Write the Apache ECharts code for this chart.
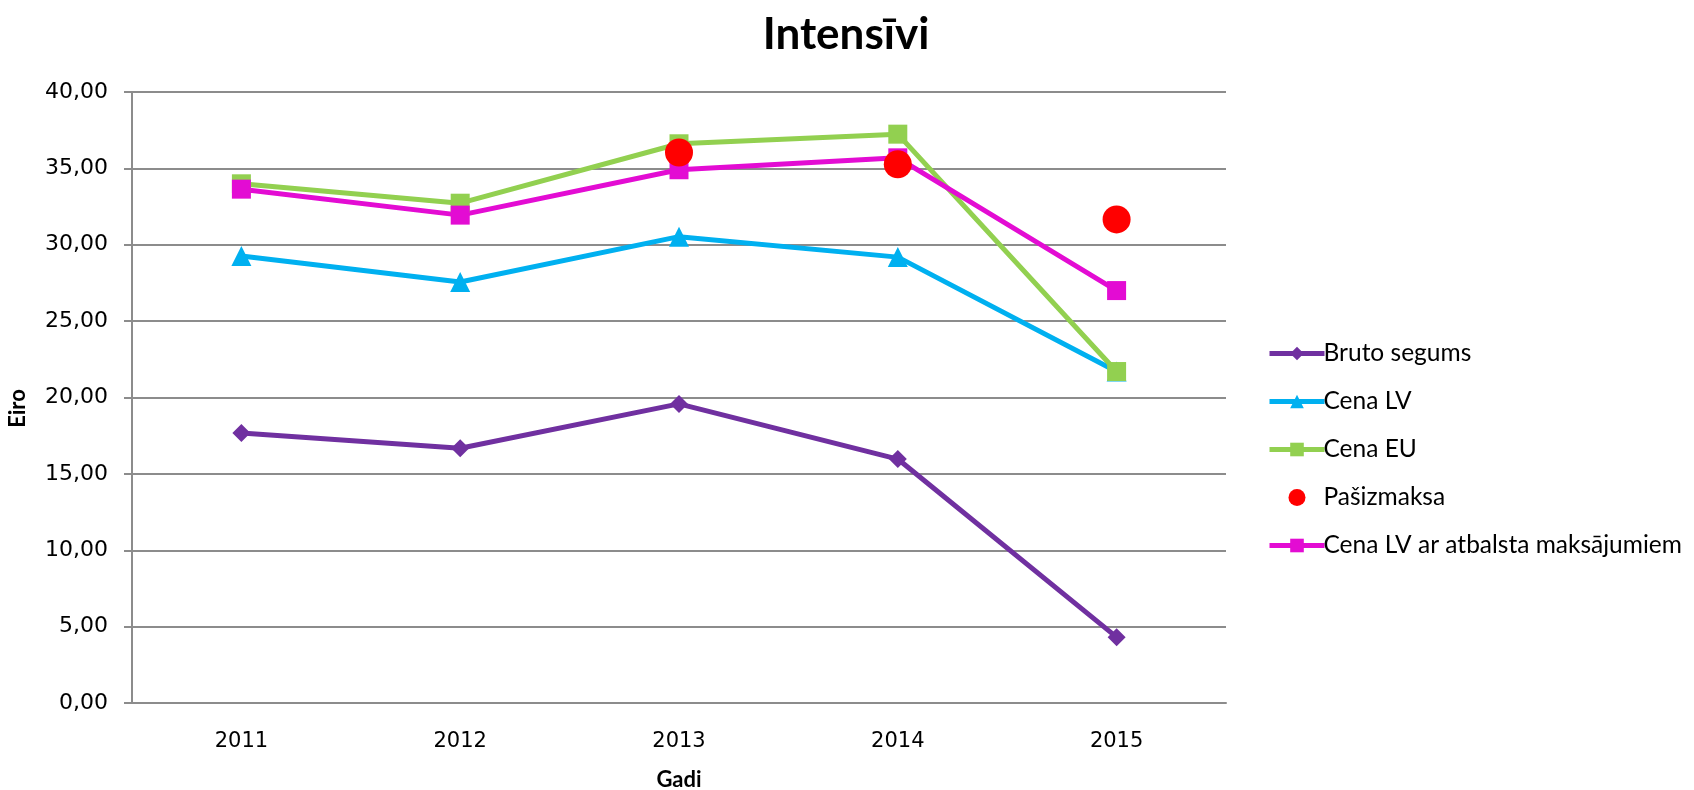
<!DOCTYPE html>
<html>
<head>
<meta charset="utf-8">
<script src="https://cdn.jsdelivr.net/npm/echarts@6/dist/echarts.min.js"></script>
<style>
  html, body { margin: 0; padding: 0; background: #fff; }
  #chart { width: 1694px; height: 790px; }
</style>
</head>
<body>
<div id="chart"></div>
<script>
const years = ["2011", "2012", "2013", "2014", "2015"];
const brutoSegums = [17.67, 16.68, 19.58, 15.97, 4.31];
const cenaLV = [29.26, 27.56, 30.53, 29.19, 21.7];
const cenaEU = [33.99, 32.72, 36.61, 37.24, 21.7];
const pasizmaksa = ["-", "-", 36.04, 35.27, 31.66];
const cenaLVAtbalsts = [33.64, 31.94, 34.91, 35.69, 27.0];

let chartDom = document.getElementById("chart");
let myChart = echarts.init(chartDom);
let option;

const lineSeries = (name, data, color, symbol, size) => ({
  name: name,
  type: "line",
  data: data,
  symbol: symbol,
  symbolSize: size,
  lineStyle: { color: color, width: 5 },
  itemStyle: { color: color },
  animation: false,
});

option = {
  title: {
    text: "Intensīvi",
    left: 841,
    top: 8,
    textAlign: "center",
    textStyle: { fontFamily: "Lato", fontWeight: "bold", fontSize: 44, color: "#000" },
  },
  legend: {
    orient: "vertical",
    left: 1262,
    top: 336,
    itemWidth: 55,
    itemHeight: 17,
    itemGap: 23,
    lineStyle: { width: 5 },
    textStyle: { fontFamily: "Lato", fontSize: 24.5, color: "#000", padding: [0, 0, 0, -6] },
    data: ["Bruto segums", "Cena LV", "Cena EU", "Pašizmaksa", "Cena LV ar atbalsta maksājumiem"],
  },
  grid: { left: 132, right: 468, top: 92, bottom: 87, outerBoundsMode: "none" },
  xAxis: {
    type: "category",
    data: years,
    name: "Gadi",
    nameLocation: "middle",
    nameGap: 66,
    nameTextStyle: { fontFamily: "Lato", fontWeight: "bold", fontSize: 22, color: "#000" },
    axisLine: { lineStyle: { color: "#8c8c8c", width: 2 } },
    axisTick: { show: false },
    axisLabel: { fontFamily: "DejaVu Sans", fontSize: 21, color: "#000", margin: 28 },
  },
  yAxis: {
    type: "value",
    min: 0,
    max: 40,
    interval: 5,
    name: "Eiro",
    nameLocation: "middle",
    nameGap: 103,
    nameTextStyle: { fontFamily: "Lato", fontWeight: "bold", fontSize: 22, color: "#000", padding: [0, 22, 0, 0] },
    axisLine: { show: true, lineStyle: { color: "#8c8c8c", width: 2 } },
    axisTick: { show: true, length: 8, lineStyle: { color: "#8c8c8c", width: 2 } },
    splitLine: { lineStyle: { color: "#8c8c8c", width: 2 } },
    axisLabel: {
      fontFamily: "DejaVu Sans",
      fontSize: 22,
      color: "#000",
      margin: 24,
      formatter: (v) => v.toFixed(2).replace(".", ","),
    },
  },
  series: [
    lineSeries("Bruto segums", brutoSegums, "#7030A0", "diamond", 18),
    lineSeries("Cena LV", cenaLV, "#00B0F0", "triangle", 20),
    lineSeries("Cena EU", cenaEU, "#92D050", "rect", 19),
    {
      name: "Pašizmaksa",
      type: "scatter",
      data: pasizmaksa,
      symbol: "circle",
      symbolSize: 28,
      z: 5,
      itemStyle: { color: "#FF0000", opacity: 1 },
      animation: false,
    },
    lineSeries("Cena LV ar atbalsta maksājumiem", cenaLVAtbalsts, "#E30CD3", "rect", 19),
  ],
};

option && myChart.setOption(option);
</script>
</body>
</html>
